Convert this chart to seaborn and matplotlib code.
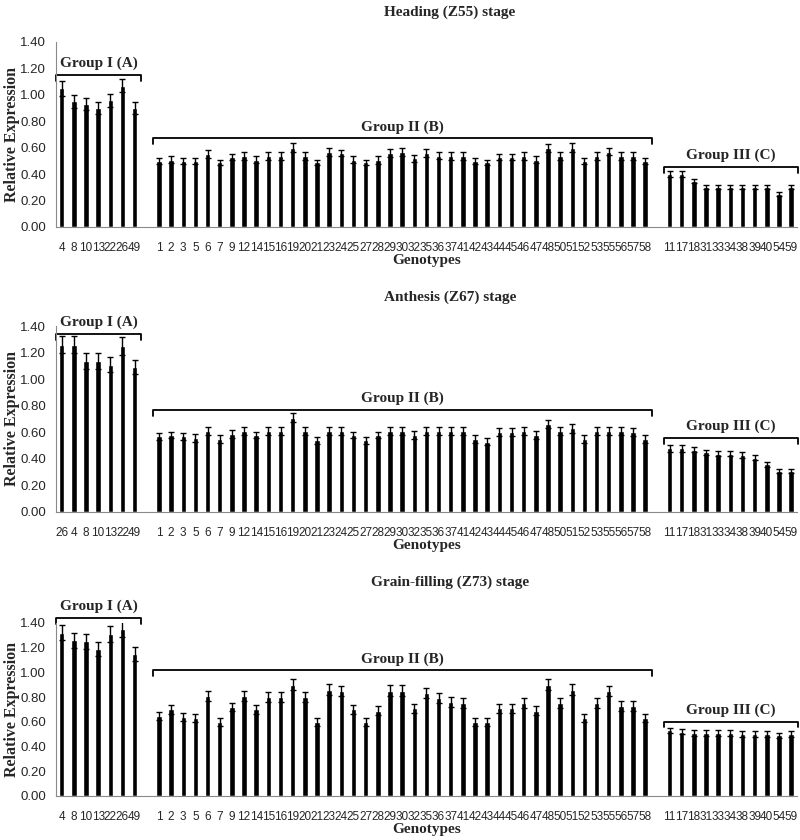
import numpy as np
import pandas as pd
import matplotlib.pyplot as plt
import seaborn as sns

# genotype labels shared by groups II and III
group2 = ['1', '2', '3', '5', '6', '7', '9', '12', '14', '15', '16', '19', '20', '21',
          '23', '24', '25', '27', '28', '29', '30', '32', '35', '36', '37', '41', '42',
          '43', '44', '45', '46', '47', '48', '50', '51', '52', '53', '55', '56', '57', '58']
group3 = ['11', '17', '18', '31', '33', '34', '38', '39', '40', '54', '59']
group_names = ['Group I (A)', 'Group II (B)', 'Group III (C)']

# Heading (Z55)
head_g1 = ['4', '8', '10', '13', '22', '26', '49']
head_v1 = [1.05, 0.95, 0.93, 0.90, 0.96, 1.07, 0.90]
head_e1 = [0.055, 0.05, 0.045, 0.045, 0.05, 0.05, 0.045]
head_v2 = [0.50, 0.51, 0.50, 0.50, 0.55, 0.49, 0.53, 0.54, 0.51, 0.54, 0.54, 0.60, 0.54, 0.49,
           0.57, 0.56, 0.51, 0.49, 0.51, 0.56, 0.57, 0.52, 0.56, 0.54, 0.54, 0.54, 0.50,
           0.49, 0.53, 0.53, 0.54, 0.51, 0.60, 0.54, 0.60, 0.50, 0.54, 0.57, 0.54, 0.54, 0.50]
head_e2 = [0.025, 0.025, 0.025, 0.025, 0.03, 0.02, 0.025, 0.03, 0.025, 0.03, 0.03, 0.035, 0.03, 0.02,
           0.03, 0.025, 0.025, 0.02, 0.03, 0.03, 0.03, 0.025, 0.03, 0.025, 0.03, 0.03, 0.025,
           0.02, 0.025, 0.025, 0.03, 0.025, 0.03, 0.03, 0.035, 0.025, 0.03, 0.025, 0.03, 0.03, 0.025]
head_v3 = [0.40, 0.40, 0.35, 0.30, 0.30, 0.30, 0.30, 0.30, 0.30, 0.25, 0.30]
head_e3 = [0.02, 0.02, 0.015, 0.015, 0.015, 0.015, 0.015, 0.015, 0.015, 0.015, 0.015]

# Anthesis (Z67)
anth_g1 = ['26', '4', '8', '10', '13', '22', '49']
anth_v1 = [1.26, 1.26, 1.14, 1.14, 1.11, 1.25, 1.09]
anth_e1 = [0.065, 0.065, 0.06, 0.06, 0.055, 0.065, 0.055]
anth_v2 = [0.57, 0.58, 0.57, 0.56, 0.61, 0.55, 0.59, 0.61, 0.58, 0.61, 0.61, 0.71, 0.61, 0.54,
           0.61, 0.61, 0.58, 0.54, 0.58, 0.61, 0.61, 0.58, 0.61, 0.61, 0.61, 0.61, 0.55,
           0.53, 0.60, 0.60, 0.61, 0.58, 0.66, 0.61, 0.63, 0.55, 0.61, 0.61, 0.61, 0.60, 0.55]
anth_e2 = [0.025, 0.025, 0.025, 0.03, 0.03, 0.03, 0.03, 0.03, 0.025, 0.03, 0.03, 0.035, 0.03, 0.025,
           0.03, 0.03, 0.025, 0.025, 0.025, 0.03, 0.03, 0.03, 0.03, 0.03, 0.03, 0.03, 0.03,
           0.025, 0.03, 0.03, 0.03, 0.03, 0.03, 0.03, 0.035, 0.03, 0.03, 0.03, 0.03, 0.03, 0.03]
anth_v3 = [0.48, 0.48, 0.47, 0.45, 0.44, 0.44, 0.43, 0.41, 0.36, 0.31, 0.31]
anth_e3 = [0.025, 0.025, 0.02, 0.02, 0.02, 0.02, 0.02, 0.02, 0.02, 0.013, 0.013]

# Grain-filling (Z73)
grain_g1 = ['4', '8', '10', '13', '22', '26', '49']
grain_v1 = [1.32, 1.26, 1.25, 1.19, 1.31, 1.35, 1.15]
grain_e1 = [0.062, 0.06, 0.06, 0.055, 0.065, 0.065, 0.055]
grain_v2 = [0.65, 0.70, 0.64, 0.63, 0.81, 0.60, 0.72, 0.81, 0.70, 0.80, 0.80, 0.90, 0.80, 0.60,
            0.86, 0.85, 0.70, 0.60, 0.69, 0.85, 0.85, 0.71, 0.83, 0.79, 0.76, 0.75, 0.60,
            0.60, 0.71, 0.71, 0.75, 0.69, 0.90, 0.75, 0.86, 0.63, 0.75, 0.85, 0.73, 0.73, 0.63]
grain_e2 = [0.032, 0.035, 0.03, 0.03, 0.04, 0.03, 0.035, 0.04, 0.035, 0.04, 0.04, 0.045, 0.04, 0.03,
            0.045, 0.04, 0.035, 0.03, 0.035, 0.045, 0.045, 0.035, 0.04, 0.04, 0.04, 0.04, 0.03,
            0.03, 0.035, 0.035, 0.04, 0.035, 0.045, 0.04, 0.045, 0.03, 0.04, 0.04, 0.04, 0.04, 0.03]
grain_v3 = [0.53, 0.52, 0.51, 0.51, 0.51, 0.51, 0.50, 0.50, 0.50, 0.49, 0.50]
grain_e3 = [0.022, 0.022, 0.022, 0.022, 0.022, 0.022, 0.022, 0.022, 0.022, 0.022, 0.022]

sns.set_style('white')
plt.rcParams['font.family'] = ['Liberation Sans', 'DejaVu Sans']
SERIF = ['Liberation Serif', 'DejaVu Serif']
GREY = '#898989'


def draw(ax, g1, v1, e1, v2, e2, v3, e3, bracket_y):
    labels = g1 + group2 + group3
    vals = v1 + v2 + v3
    errs = e1 + e2 + e3
    order = g1 + [''] + group2 + [' '] + group3
    df = pd.DataFrame({'genotype': labels, 'expr': vals})
    sns.barplot(data=df, x='genotype', y='expr', order=order, color='black',
                saturation=1, width=0.45, errorbar=None, ax=ax)
    xpos = [order.index(g) for g in labels]
    ax.errorbar(xpos, vals, yerr=errs, fmt='none', ecolor='black',
                elinewidth=1.0, capsize=2.5, capthick=1.0)

    n = len(order)
    ax.set_xlim(-0.5, n - 0.5)
    ax.set_ylim(0, 1.4)
    ax.set_yticks(np.arange(0, 1.41, 0.2))
    ax.set_yticklabels([f'{t:.2f}' for t in np.arange(0, 1.41, 0.2)])
    ax.set_xticks(range(n))
    ax.set_xticklabels(order)
    ax.set_xticks(np.arange(-0.5, n), minor=True)
    ax.tick_params(axis='x', which='major', length=0, pad=11, labelsize=8.5)
    ax.tick_params(axis='x', which='minor', length=4, color=GREY, width=0.8, direction='out')
    ax.tick_params(axis='y', length=4, color=GREY, width=0.8, direction='out', labelsize=9.5, pad=3)
    for s in ['top', 'right']:
        ax.spines[s].set_visible(False)
    for s in ['left', 'bottom']:
        ax.spines[s].set_color(GREY)
        ax.spines[s].set_linewidth(0.8)

    ax.set_xlabel('Genotypes', fontfamily=SERIF, fontweight='bold', fontsize=11, labelpad=-0.5)
    ax.set_ylabel('Relative Expression', fontfamily=SERIF, fontweight='bold', fontsize=11.5)
    ax.yaxis.set_label_coords(-0.048, 0.5)

    # group brackets
    starts = [0, len(g1) + 1, len(g1) + len(group2) + 2]
    ends = [len(g1) - 1, len(g1) + len(group2), n - 1]
    for name, s, e, y in zip(group_names, starts, ends, bracket_y):
        x0, x1 = s - 0.45, e + 0.55
        ax.plot([x0, x0, x1, x1], [y - 0.045, y, y, y - 0.045], color='black',
                lw=1.3, clip_on=False)
        ax.annotate(name, xy=((x0 + x1) / 2, y), xytext=(0, 3.5), textcoords='offset points',
                    ha='center', va='bottom', fontfamily=SERIF, fontweight='bold',
                    fontsize=11, annotation_clip=False)


fig = plt.figure(figsize=(8, 8.4), dpi=100)
ax1 = fig.add_axes([0.0695, 0.7298, 0.927, 0.2202])
ax2 = fig.add_axes([0.0695, 0.3905, 0.927, 0.2214])
ax3 = fig.add_axes([0.0695, 0.0524, 0.927, 0.2060])

draw(ax1, head_g1, head_v1, head_e1, head_v2, head_e2, head_v3, head_e3, [1.15, 0.67, 0.455])
draw(ax2, anth_g1, anth_v1, anth_e1, anth_v2, anth_e2, anth_v3, anth_e3, [1.34, 0.77, 0.56])
draw(ax3, grain_g1, grain_v1, grain_e1, grain_v2, grain_e2, grain_v3, grain_e3, [1.44, 1.016, 0.60])

for y, t in [(12, 'Heading (Z55) stage'), (297, 'Anthesis (Z67) stage'),
             (582, 'Grain-filling (Z73) stage')]:
    fig.text(450 / 800, 1 - y / 840, t, ha='center', va='center',
             fontfamily=SERIF, fontweight='bold', fontsize=11)

fig.savefig('out.png', dpi=100)
